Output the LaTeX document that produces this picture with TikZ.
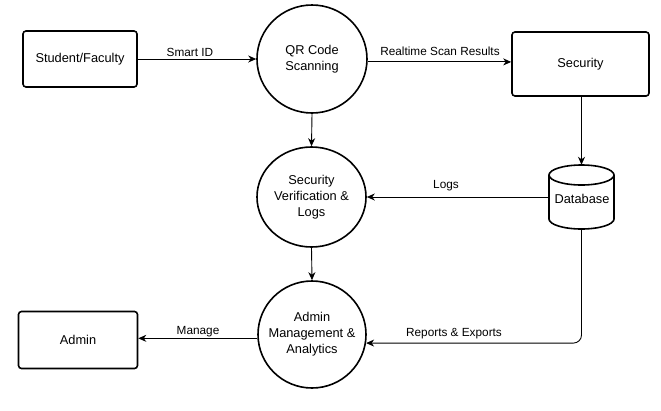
\documentclass[tikz,border=0pt]{standalone}
\usepackage{fontspec}
\setmainfont{Liberation Sans}
\usetikzlibrary{arrows.meta,shapes.geometric}
\begin{document}
\begin{tikzpicture}[x=1pt,y=-1pt,
  ent/.style={draw,line width=1.6pt,rounded corners=3pt,inner sep=0pt,font=\fontsize{12.8}{14}\selectfont},
  proc/.style={draw,ellipse,line width=1.6pt,inner xsep=-20pt,inner ysep=0pt,align=center,font=\fontsize{12.8}{16}\selectfont},
  arr/.style={line width=0.9pt,-{Stealth[length=8pt,width=7pt,inset=2.5pt]}},
  lbl/.style={font=\fontsize{11.8}{13}\selectfont,inner sep=0pt}]
\useasboundingbox (0,0) rectangle (661,410);
\node[ent,minimum width=114pt,minimum height=56pt] (sf) at (80,59) {Student/Faculty};
\node[proc,minimum width=110pt,minimum height=108pt] (qr) at (312,59) {QR Code\\Scanning};
\node[ent,minimum width=137pt,minimum height=64pt] (sec) at (580.5,64) {Security};
\node[proc,minimum width=109pt,minimum height=100pt] (sv) at (311.5,197) {Security\\Verification \&\\Logs};
\node[proc,minimum width=108pt,minimum height=107pt] (am) at (312,334.5) {Admin\\Management \&\\Analytics};
\node[ent,minimum width=119pt,minimum height=57pt] (adm) at (78,340) {Admin};
\node[minimum width=65pt,minimum height=64pt,inner sep=0pt] (db) at (581.5,197) {};
\draw[line width=1.6pt] (549,175) -- (549,219) arc[start angle=180,end angle=360,x radius=32.5pt,y radius=10pt] -- (614,175);
\draw[line width=1.6pt] (581.5,175) ellipse[x radius=32.5pt,y radius=10pt];
\node[font=\fontsize{12.8}{14}\selectfont,inner sep=0pt] (dbt) at (582,199) {Database};
\draw[arr] (sf.east) -- (qr.west);
\draw[arr] (qr.-3) -- (qr.-3 -| sec.west);
\draw[arr] (sec.south -| db.north) -- (db.north);
\draw[arr] (qr.south) -- (sv.north);
\draw[arr] (sv.south) -- (am.north);
\draw[arr] (db.west) -- (sv.east);
\draw[arr,rounded corners=8pt] (db.south) |- (am.-9);
\draw[arr] (am.184) -- (am.184 -| adm.east);
\node[lbl] at (190,52) {Smart ID};
\node[lbl] at (440,51) {Realtime Scan Results};
\node[lbl] at (446,186) {Logs};
\node[lbl] at (454,334) {Reports \& Exports};
\node[lbl] at (198,332) {Manage};
\end{tikzpicture}
\end{document}
